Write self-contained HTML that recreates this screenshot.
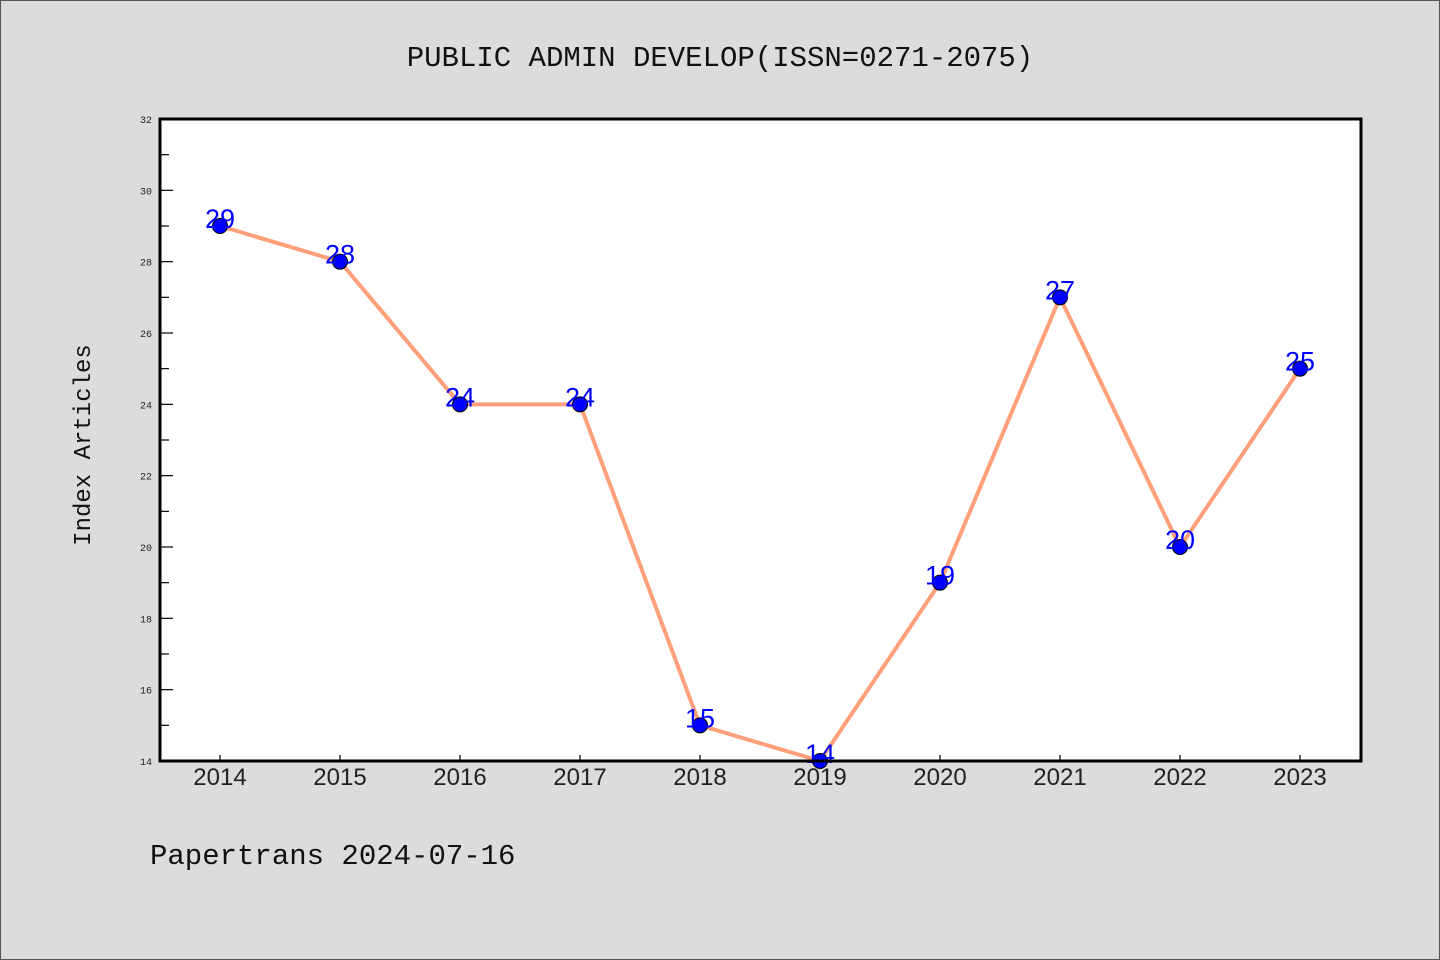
<!DOCTYPE html>
<html><head><meta charset="utf-8"><style>
html,body{margin:0;padding:0;background:#dcdcdc;}
svg{display:block;font-family:"Liberation Mono","DejaVu Sans Mono",monospace;}
</style></head><body>
<svg width="1440" height="960" viewBox="0 0 1440 960">
<rect x="0.5" y="0.5" width="1439" height="959" fill="#dcdcdc" stroke="#555"/>
<text x="720" y="66" text-anchor="middle" font-size="29" fill="#111">PUBLIC ADMIN DEVELOP(ISSN=0271-2075)</text>
<rect x="160" y="119" width="1201" height="642" fill="#fff"/>
<g id="yaxis"></g>
<g id="xaxis"></g>
<g id="series"></g>
<rect x="160" y="119" width="1201" height="642" fill="none" stroke="#000" stroke-width="3"/>
<text transform="translate(90,445) rotate(-90)" text-anchor="middle" font-size="24" fill="#111">Index Articles</text>
<text x="150" y="864" font-size="29" fill="#111">Papertrans 2024-07-16</text>
</svg>
<script>
const years = [2014,2015,2016,2017,2018,2019,2020,2021,2022,2023];
const values = [29,28,24,24,15,14,19,27,20,25];
const yTicks = [14,16,18,20,22,24,26,28,30,32];
const NS = "http://www.w3.org/2000/svg";
const yMin = 14, yMax = 32;
function yS(v){ return 761 - (v - yMin) / (yMax - yMin) * 642; }
function xS(i){ return 220 + i * 120; }
function mk(tag, attrs, parent){ const e = document.createElementNS(NS, tag); for (const k in attrs) e.setAttribute(k, attrs[k]); parent.appendChild(e); return e; }
const ya = document.getElementById('yaxis');
for (let v = yMin; v <= yMax; v++) {
  const major = v % 2 === 0;
  const t = mk('line', {x1:160, x2: major ? 173 : 169, y1:yS(v), y2:yS(v), stroke:'#000', 'stroke-width':1.2}, ya);
  
  
}
yTicks.forEach(v => {
  const t = mk('text', {x:152, y:yS(v)+4, 'text-anchor':'end', 'font-size':10, fill:'#222'}, ya);
  t.textContent = v;
  
  
});
const xa = document.getElementById('xaxis');
years.forEach((y, i) => {
  const l = mk('line', {x1:xS(i), x2:xS(i), y1:761, y2:755, stroke:'#000', 'stroke-width':1.2}, xa);
  
  
  const t = mk('text', {x:xS(i), y:785, 'text-anchor':'middle', 'font-size':24, fill:'#222', 'font-family':'Liberation Sans, sans-serif'}, xa);
  t.textContent = y;
  
  
});
const sg = document.getElementById('series');
const pts = values.map((v, i) => xS(i) + ',' + yS(v)).join(' ');
const line = mk('polyline', {points:pts, fill:'none', stroke:'#ffa07a', 'stroke-width':4, 'stroke-linejoin':'round'}, sg);


values.forEach((v, i) => {
  const c = mk('circle', {cx:xS(i), cy:yS(v), r:7.5, fill:'#0000ff', stroke:'#000', 'stroke-width':1}, sg);
  
  
  const t = mk('text', {x:xS(i), y:yS(v)+2, 'text-anchor':'middle', 'font-size':27, fill:'#0000ff', 'font-family':'Liberation Sans, sans-serif'}, sg);
  t.textContent = v;
  
  
});
</script>
</body></html>
